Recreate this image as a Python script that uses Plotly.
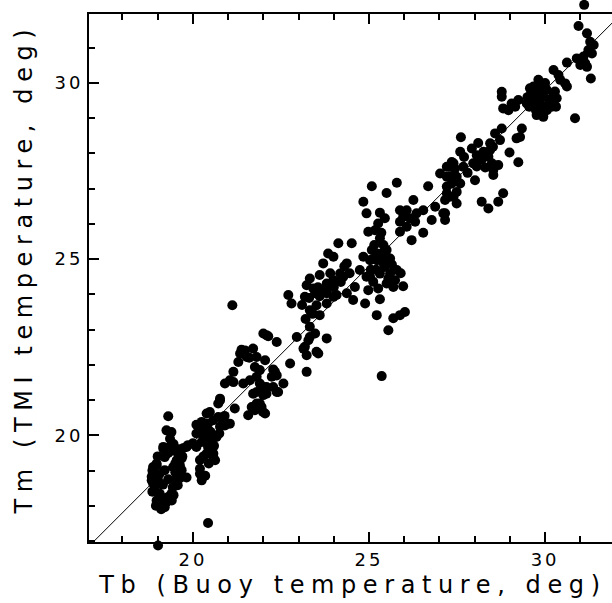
import plotly.graph_objects as go

# Buoy temperature (Tb) and TMI temperature (Tm), deg
tb = [
    19.30, 19.25, 19.39, 19.35, 19.16, 19.20, 19.43, 19.70, 19.50, 18.97,
    18.87, 18.83, 18.92, 18.97, 19.06, 19.20, 19.16, 19.30, 19.39, 19.06,
    18.92, 18.87, 19.43, 19.57, 19.63, 19.82, 20.25, 20.20, 20.43, 19.01,
    19.72, 19.86, 20.00, 20.10, 20.25, 20.25, 20.48, 20.58, 20.77, 20.96,
    20.67, 20.48, 20.39, 20.58, 20.63, 20.77, 20.72, 21.19, 21.57, 21.71,
    21.90, 21.99, 21.81, 22.38, 20.20, 20.10, 20.25, 20.39, 20.20, 20.29,
    20.43, 20.72, 20.91, 21.05, 20.43, 20.58, 19.82, 18.87, 18.97, 18.83,
    19.01, 19.49, 19.20, 19.25, 19.58, 19.68, 19.54, 19.63, 19.44, 19.54,
    19.68, 19.35, 19.16,
    18.85, 18.85, 18.95, 19.10, 19.25, 19.40, 19.45, 19.15, 19.05, 19.30,
    19.50, 19.60, 19.45, 19.30, 19.60, 19.00,
    20.10, 20.30, 20.50, 20.60, 20.30, 20.45, 20.20, 20.75, 20.90, 20.35,
    20.91, 21.05, 21.15, 21.29, 21.34, 21.53, 21.48, 21.71, 21.81, 22.00,
    22.09, 22.38, 21.76, 21.90, 22.05, 21.90, 22.00, 22.09, 22.24, 22.57,
    22.33, 22.76, 22.95, 21.71, 21.76, 21.95, 22.05, 21.81, 21.12, 22.71,
    22.80, 22.14, 21.38, 21.60, 22.28, 22.38, 23.23, 21.15, 21.43, 21.62,
    21.81, 22.09, 22.28, 22.42, 22.00, 20.77, 21.67, 20.39, 20.86, 20.39,
    23.23, 23.47, 23.71, 23.94, 24.08, 23.80, 23.51, 23.32, 23.41, 23.60,
    23.32, 23.47, 23.28, 23.14, 23.23, 23.51, 23.80, 24.37, 24.13, 24.51,
    23.84, 23.99, 23.70, 24.37, 24.18, 24.27, 23.99, 23.80, 23.60, 23.32,
    23.42, 23.18, 23.80, 23.99, 24.55, 24.60, 24.74, 24.93, 25.03, 24.84,
    25.08, 25.22, 25.50, 23.56, 23.37, 23.32, 23.18,
    23.10, 23.30, 23.60, 24.00, 24.20, 24.45, 23.90, 23.55, 23.20, 24.30,
    25.10, 25.20, 25.40, 25.55, 25.15, 25.35, 25.65, 25.90, 25.05,
    25.08, 25.79, 25.50, 24.84, 26.68, 26.26, 24.93, 25.31, 25.45, 25.26,
    25.17, 24.98, 25.88, 26.07, 26.35, 26.54, 25.97, 25.88, 26.16, 26.31,
    26.78, 26.88, 27.11, 27.16, 26.54, 25.88, 26.07, 26.21, 27.02, 27.21,
    27.30, 27.40, 27.35, 27.21, 27.40, 27.49, 25.31, 25.41, 25.50, 25.60,
    25.36, 25.22, 25.45, 25.31, 25.60, 25.79, 25.74, 25.50, 25.69, 25.97,
    25.03, 25.12, 24.98, 25.26, 25.31, 24.89, 25.22, 26.02, 25.88, 25.69,
    25.55, 25.36,
    31.11, 30.95, 31.19, 31.28, 31.38, 31.23, 31.33, 30.90, 31.00, 31.14,
    31.19, 31.09, 30.62, 31.30, 30.85, 30.24, 30.38, 30.43, 30.57, 30.62,
    29.81, 29.67, 29.57, 29.86, 30.05, 30.28, 30.33, 30.14, 29.95, 29.76,
    29.62, 29.48, 29.67, 29.86, 30.05, 30.19, 29.76, 29.95, 29.86, 28.77,
    28.77, 29.24, 29.05, 29.15, 28.81, 28.96, 28.77, 29.34, 29.29, 29.19,
    28.58, 28.72, 28.44, 28.52, 27.61, 27.59, 27.92, 28.06, 28.25, 28.44,
    28.39, 28.20, 27.96, 28.06, 28.49, 28.67, 28.53, 28.53, 28.99, 29.24,
    27.35, 27.21, 27.44, 27.68, 27.49, 27.21, 27.59, 27.49, 27.30, 27.16,
    27.16, 28.01, 28.20, 28.39, 28.67, 28.81, 30.22, 29.74, 29.55, 30.31,
    29.60, 29.90, 30.10, 29.70, 30.00, 29.50,
    27.70, 27.80, 28.30, 27.30, 28.10,
]
tm = [
    20.54, 20.14, 20.09, 19.90, 19.62, 19.38, 19.57, 19.40, 19.20, 19.15,
    18.86, 18.72, 18.53, 18.15, 18.01, 17.96, 18.20, 18.25, 18.34, 18.34,
    18.44, 18.63, 18.52, 18.58, 18.78, 18.80, 18.72, 19.05, 17.51, 16.87,
    19.63, 19.72, 19.77, 20.05, 20.06, 20.38, 20.66, 20.43, 20.24, 20.33,
    19.95, 19.86, 19.48, 19.38, 19.29, 20.99, 20.90, 20.76, 20.57, 20.80,
    20.90, 20.66, 21.23, 21.23, 18.91, 19.67, 19.81, 19.95, 20.09, 20.24,
    20.33, 20.52, 20.28, 20.33, 19.67, 19.48, 19.67, 19.10, 19.20, 18.82,
    18.72, 18.72, 19.01, 19.48, 19.48, 19.34, 19.29, 19.15, 19.10, 18.96,
    19.01, 19.67, 19.67,
    19.00, 18.40, 18.00, 17.90, 18.10, 18.15, 18.30, 18.60, 18.90, 18.75,
    18.95, 19.60, 19.75, 19.50, 19.00, 19.40,
    20.30, 20.00, 20.10, 19.70, 19.40, 19.20, 19.30, 20.05, 20.55, 18.85,
    21.47, 21.56, 21.80, 22.08, 22.32, 22.22, 22.41, 22.46, 22.22, 22.89,
    22.84, 22.65, 21.94, 21.85, 22.13, 21.47, 21.37, 21.18, 21.66, 21.47,
    21.80, 22.04, 22.79, 21.18, 20.71, 20.80, 20.62, 20.90, 23.69, 23.98,
    23.74, 22.81, 22.43, 22.20, 21.87, 21.70, 21.80, 21.51, 21.47, 21.56,
    21.66, 21.37, 21.37, 21.23, 21.14, 21.04, 20.80, 20.62, 20.33, 20.33,
    24.26, 24.03, 24.12, 24.22, 23.98, 23.74, 23.69, 23.55, 23.45, 23.41,
    23.08, 22.89, 22.70, 22.46, 22.27, 22.37, 22.75, 24.03, 25.45, 25.45,
    25.16, 25.07, 24.88, 24.88, 24.59, 24.50, 24.40, 24.31, 24.55, 24.45,
    24.17, 23.93, 24.03, 23.93, 23.84, 24.21, 24.69, 24.50, 24.97, 25.07,
    25.26, 25.16, 25.07, 22.32, 23.46, 22.79, 22.51,
    23.70, 23.90, 23.95, 24.20, 24.35, 24.60, 24.60, 24.20, 23.30, 24.80,
    25.00, 24.70, 24.90, 24.45, 25.40, 25.75, 24.85, 24.60, 24.70,
    27.07, 27.17, 26.88, 26.63, 27.07, 26.68, 26.30, 26.32, 26.16, 26.01,
    25.82, 25.78, 26.39, 26.39, 26.30, 26.39, 26.20, 26.06, 26.16, 26.06,
    26.11, 26.49, 26.30, 26.11, 25.75, 25.78, 25.92, 25.54, 27.43, 27.34,
    27.62, 27.72, 27.15, 26.87, 26.77, 26.58, 25.59, 25.40, 25.26, 25.02,
    25.16, 24.97, 24.78, 24.59, 24.59, 24.69, 24.40, 24.31, 24.21, 24.23,
    24.50, 24.36, 24.12, 24.17, 23.86, 23.74, 23.41, 23.50, 23.41, 23.32,
    22.98, 21.68,
    32.22, 31.62, 31.41, 31.17, 31.08, 30.94, 30.84, 30.70, 30.51, 30.56,
    30.46, 30.75, 30.58, 30.13, 29.00, 30.37, 30.23, 30.09, 29.99, 29.90,
    30.09, 29.90, 29.85, 29.85, 29.80, 29.76, 29.57, 29.52, 29.61, 29.66,
    29.52, 29.42, 29.33, 29.23, 29.23, 29.33, 29.09, 29.04, 29.42, 29.75,
    29.61, 29.52, 29.42, 29.33, 29.28, 29.23, 28.71, 28.71, 28.47, 28.43,
    28.57, 28.38, 28.29, 28.19, 28.46, 28.05, 28.14, 27.95, 28.05, 28.10,
    27.91, 27.82, 27.72, 27.63, 27.72, 27.67, 27.53, 27.39, 28.03, 27.75,
    27.76, 27.62, 27.57, 27.62, 27.34, 27.06, 27.15, 26.91, 26.77, 26.68,
    26.30, 27.24, 26.63, 26.44, 26.63, 26.87, 29.61, 29.23, 29.33, 29.33,
    29.70, 29.70, 29.40, 29.45, 30.00, 29.60,
    27.90, 27.45, 27.60, 27.35, 28.30,
]

# Reference line (Tm = Tb)
line_x = [16.5, 32.5]
line_y = [16.3, 32.3]

x_title = "Tb (Buoy temperature, deg)"
y_title = "Tm (TMI temperature, deg)"

x_range = [17.05, 31.9]
y_range = [16.97, 31.96]

W, H = 612, 603
PL, PR, PT, PB = 89, 612, 14, 542   # plot-area edges in pixels
PW, PH = PR - PL, PB - PT

# full-page helper axes with the same scale (so markers beyond the frame still show)
kx = (x_range[1] - x_range[0]) / PW
ky = (y_range[1] - y_range[0]) / PH
x_full = [x_range[0] - PL * kx, x_range[1] + (W - PR) * kx]
y_full = [y_range[0] - (H - PB) * ky, y_range[1] + PT * ky]

fig = go.Figure()
fig.add_trace(go.Scatter(x=line_x, y=line_y, mode="lines",
                         line=dict(color="black", width=1),
                         hoverinfo="skip", showlegend=False))
fig.add_trace(go.Scatter(x=tb, y=tm, mode="markers", xaxis="x2", yaxis="y3",
                         marker=dict(color="black", size=10, line=dict(width=0)),
                         cliponaxis=False, showlegend=False))

tickfont = dict(family="DejaVu Sans", size=18, color="black")
minor = dict(dtick=1, ticks="inside", ticklen=6, tickwidth=1.5,
             tickcolor="black", showgrid=False)
common = dict(showgrid=False, zeroline=False, ticks="inside", ticklen=10,
              tickwidth=2, tickcolor="black", dtick=5, tick0=0,
              tickfont=tickfont, minor=minor)

xdom = [PL / W, PR / W]
ydom = [(H - PB) / H, (H - PT) / H]

fig.update_layout(
    width=W, height=H,
    margin=dict(l=0, r=0, t=0, b=0, pad=0),
    paper_bgcolor="white", plot_bgcolor="rgba(0,0,0,0)",
    showlegend=False,
    xaxis=dict(domain=xdom, range=x_range, anchor="y", showline=True,
               linecolor="black", linewidth=2, mirror="ticks", **common),
    yaxis=dict(domain=ydom, range=y_range, anchor="x", showline=True,
               linecolor="black", linewidth=2, mirror=False, **common),
    yaxis2=dict(range=y_range, overlaying="y", side="right", anchor="x",
                showline=False, showticklabels=False, **common),
    xaxis2=dict(domain=[0, 1], range=x_full, anchor="y3", visible=False,
                fixedrange=True),
    yaxis3=dict(domain=[0, 1], range=y_full, anchor="x2", visible=False,
                fixedrange=True),
    annotations=[
        dict(text=x_title, xref="paper", yref="paper",
             x=353 / W, y=(H - 585) / H,
             xanchor="center", yanchor="middle", showarrow=False,
             font=dict(family="DejaVu Sans", size=24, color="black")),
        dict(text=y_title, xref="paper", yref="paper",
             x=24 / W, y=(H - 269) / H, textangle=-90,
             xanchor="center", yanchor="middle", showarrow=False,
             font=dict(family="DejaVu Sans", size=24, color="black")),
    ],
)

post = (
    "document.body.style.margin='0';"
    "var gd=document.getElementById('{plot_id}');"
    "gd.querySelectorAll('.xtick text, .ytick text').forEach(function(t){t.style.letterSpacing='3px';});"
    "gd.querySelectorAll('.annotation-text').forEach(function(t){t.style.letterSpacing='6.6px';});"
)

fig.write_html("out.html", post_script=post, config={"displayModeBar": False})
